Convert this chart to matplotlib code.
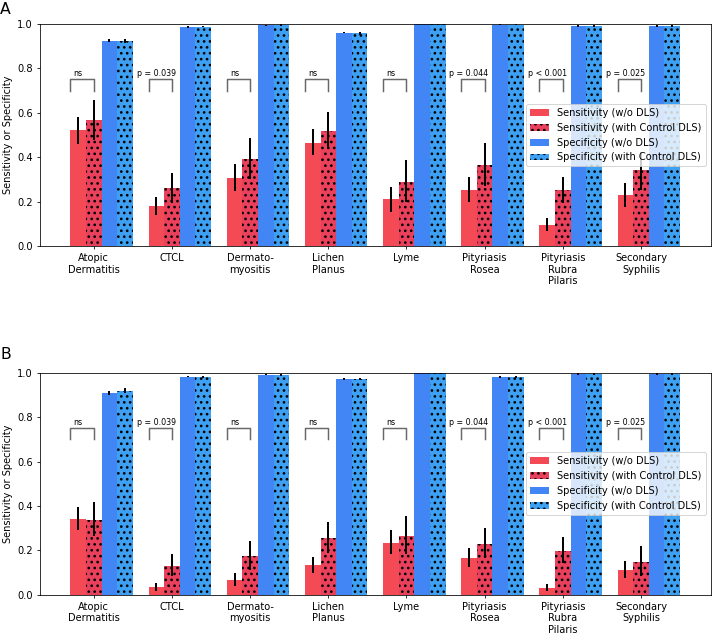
import matplotlib.pyplot as plt
import numpy as np

categories = ["Atopic\nDermatitis", "CTCL", "Dermato-\nmyositis", "Lichen\nPlanus",
              "Lyme", "Pityriasis\nRosea", "Pityriasis\nRubra\nPilaris", "Secondary\nSyphilis"]
p_labels = ["ns", "p = 0.039", "ns", "ns", "ns", "p = 0.044", "p < 0.001", "p = 0.025"]

series_names = ["Sensitivity (w/o DLS)", "Sensitivity (with Control DLS)",
                "Specificity (w/o DLS)", "Specificity (with Control DLS)"]

# panel A: values, lower / upper error bar ends
a_sens = [0.521, 0.180, 0.306, 0.465, 0.212, 0.251, 0.095, 0.228]
a_sens_lo = [0.460, 0.140, 0.249, 0.408, 0.155, 0.197, 0.069, 0.174]
a_sens_hi = [0.580, 0.222, 0.369, 0.527, 0.267, 0.309, 0.125, 0.282]
a_sens_ctrl = [0.566, 0.260, 0.393, 0.518, 0.290, 0.366, 0.251, 0.341]
a_sens_ctrl_lo = [0.478, 0.195, 0.302, 0.435, 0.197, 0.270, 0.192, 0.252]
a_sens_ctrl_hi = [0.657, 0.330, 0.486, 0.605, 0.386, 0.463, 0.312, 0.425]
a_spec = [0.925, 0.987, 0.995, 0.962, 1.000, 0.998, 0.991, 0.992]
a_spec_err = [0.007, 0.003, 0.003, 0.004, 0.001, 0.002, 0.004, 0.004]
a_spec_ctrl = [0.925, 0.989, 0.995, 0.958, 1.000, 0.997, 0.991, 0.992]
a_spec_ctrl_err = [0.010, 0.004, 0.004, 0.006, 0.001, 0.003, 0.005, 0.005]

# panel B
b_sens = [0.342, 0.033, 0.066, 0.132, 0.231, 0.164, 0.028, 0.111]
b_sens_lo = [0.291, 0.016, 0.039, 0.096, 0.182, 0.124, 0.016, 0.073]
b_sens_hi = [0.396, 0.052, 0.099, 0.169, 0.290, 0.209, 0.048, 0.153]
b_sens_ctrl = [0.336, 0.131, 0.173, 0.255, 0.266, 0.230, 0.198, 0.149]
b_sens_ctrl_lo = [0.264, 0.086, 0.111, 0.189, 0.185, 0.164, 0.141, 0.086]
b_sens_ctrl_hi = [0.417, 0.183, 0.240, 0.326, 0.353, 0.299, 0.258, 0.218]
b_spec = [0.908, 0.983, 0.992, 0.971, 1.000, 0.980, 0.995, 0.993]
b_spec_err = [0.008, 0.004, 0.003, 0.004, 0.001, 0.004, 0.003, 0.004]
b_spec_ctrl = [0.920, 0.980, 0.989, 0.973, 1.000, 0.982, 0.993, 0.993]
b_spec_ctrl_err = [0.012, 0.005, 0.005, 0.004, 0.001, 0.005, 0.004, 0.004]

colors = ["#f34a55", "#e9405c", "#4285f4", "#3da0f2"]
hatches = [None, "..", None, ".."]


def draw_panel(ax, sens, sens_lo, sens_hi, sens_c, sens_c_lo, sens_c_hi,
               spec, spec_err, spec_c, spec_c_err):
    x = np.arange(len(categories))
    sens = np.array(sens)
    sens_c = np.array(sens_c)
    vals = [sens, sens_c, np.array(spec), np.array(spec_c)]
    errs = [
        [sens - np.array(sens_lo), np.array(sens_hi) - sens],
        [sens_c - np.array(sens_c_lo), np.array(sens_c_hi) - sens_c],
        spec_err,
        spec_c_err,
    ]
    offsets = [-0.2, 0.0, 0.2, 0.4]
    for k in range(4):
        ax.bar(x + offsets[k], vals[k], width=0.2, color=colors[k],
               hatch=hatches[k], edgecolor="black", linewidth=0,
               label=series_names[k], yerr=errs[k],
               error_kw=dict(elinewidth=2, ecolor="black", capsize=0))
    # significance brackets
    for i in range(len(categories)):
        ax.plot([i - 0.3, i - 0.3, i, i], [0.70, 0.752, 0.752, 0.70],
                color="dimgray", linewidth=1.5)
        ax.text(i - 0.2, 0.757, p_labels[i], ha="center", va="bottom", fontsize=8)
    ax.set_xticks(x)
    ax.set_xticklabels(categories)
    ax.set_ylim(0, 1)
    ax.set_ylabel("Sensitivity or Specificity")
    ax.legend(loc="center right")


plt.rcParams["hatch.color"] = "black"
plt.rcParams["hatch.linewidth"] = 1.5

fig = plt.figure(figsize=(10, 634 / 71.2), dpi=71.2)
ax1 = fig.add_axes([0.056, 0.612, 0.942, 0.350])
ax2 = fig.add_axes([0.056, 0.062, 0.942, 0.350])

draw_panel(ax1, a_sens, a_sens_lo, a_sens_hi, a_sens_ctrl, a_sens_ctrl_lo, a_sens_ctrl_hi,
           a_spec, a_spec_err, a_spec_ctrl, a_spec_ctrl_err)
draw_panel(ax2, b_sens, b_sens_lo, b_sens_hi, b_sens_ctrl, b_sens_ctrl_lo, b_sens_ctrl_hi,
           b_spec, b_spec_err, b_spec_ctrl, b_spec_ctrl_err)

fig.text(0.0, 0.997, "A", fontsize=16, ha="left", va="top")
fig.text(0.0, 0.452, "B", fontsize=16, ha="left", va="top")

fig.savefig("out.png", dpi=71.2)
